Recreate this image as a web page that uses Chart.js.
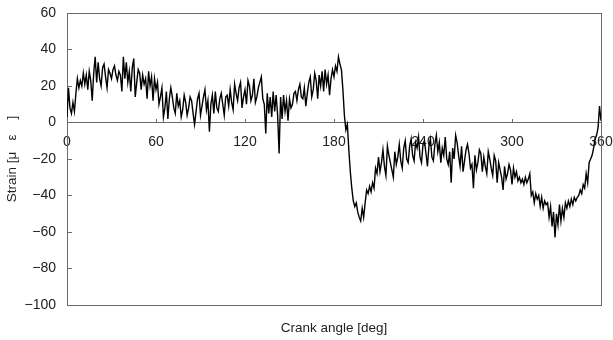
<!DOCTYPE html>
<html>
<head>
<meta charset="utf-8">
<script src="https://cdn.jsdelivr.net/npm/chart.js@4/dist/chart.umd.min.js"></script>
<style>
  html, body { margin: 0; padding: 0; background: #fff; }
  #wrap { width: 613px; height: 340px; }
</style>
</head>
<body>
<div id="wrap"><canvas id="c" width="613" height="340"></canvas></div>
<script>
// Crank angle sampling (deg per sample) and axis ranges
const ANGLE_STEP = 1;
const xTicks = [0, 60, 120, 180, 240, 300, 360];
const yTicks = [-100, -80, -60, -40, -20, 0, 20, 40, 60];

// Measured strain [μ ε] at every degree of crank angle, 0..360
const strain = [
  3, 19, 8, 5, 11, 6, 16, 24, 19, 23,
  20, 27, 21, 26, 18, 28, 23, 12, 27, 36,
  22, 33, 24, 20, 30, 32, 25, 19, 29, 27,
  24, 29, 31, 26, 23, 28, 26, 17, 36, 24,
  33, 22, 28, 17, 30, 35, 14, 22, 29, 27,
  18, 26, 21, 24, 13, 28, 20, 25, 12, 24,
  18, 22, 10, 14, 19, 3, 8, 17, 2, 13,
  19, 14, 8, 5, 16, 9, 12, 3, 7, 15,
  11, 4, 8, 14, 12, 5, -1, 6, 13, 16,
  4, 9, 14, 18, 7, 12, -5, 10, 15, 5,
  17, 8, 6, 13, 16, 10, 4, 14, 15, 9,
  18, 11, 7, 21, 16, 12, 19, 22, 8, 14,
  18, 10, 23, 20, 12, 15, 24, 11, 14, 19,
  22, 25, 13, 10, -6, 16, 5, 14, 3, 17,
  6, 15, 4, -17, 14, 2, 15, 6, 12, 1,
  13, 8, 10, 16, 17, 12, 18, 21, 14, 13,
  19, 9, 16, 22, 25, 14, 18, 27, 23, 13,
  26, 20, 28, 17, 29, 21, 26, 15, 24, 29,
  25, 31, 28, 36, 32, 29, 18, 4, -4, -1,
  -15, -27, -36, -43, -46, -44, -49, -52, -54, -47,
  -52, -44, -37, -39, -35, -38, -33, -36, -25, -28,
  -19, -27, -22, -15, -24, -29, -13, -18, -22, -26,
  -30, -16, -23, -19, -12, -21, -25, -14, -10, -20,
  -22, -13, -9, -18, -21, -11, -14, -8, -19, -22,
  -12, -10, -17, -24, -13, -9, -19, -21, -12, -7,
  -16, -11, -22, -14, -18, -8, -20, -23, -16, -33,
  -14, -20, -7, -11, -18, -24, -13, -27, -21, -15,
  -12, -17, -25, -23, -36, -18, -26, -22, -15, -17,
  -27, -19, -24, -28, -16, -20, -25, -29, -18, -21,
  -33, -22, -26, -30, -37, -24, -31, -28, -23, -26,
  -34, -25, -30, -27, -32, -30, -33, -31, -34, -30,
  -33, -31, -28, -40, -38, -44, -39, -42, -40, -46,
  -41, -47, -43, -45, -44, -52, -46, -57, -49, -63,
  -50, -56, -45, -54, -47, -52, -44, -47, -43, -46,
  -42, -45, -41, -43, -41, -40, -37, -39, -34, -36,
  -28, -33, -22, -20, -18, -14, -9, -7, -3, 9,
  1
];

const points = strain.map((v, i) => ({ x: i * ANGLE_STEP, y: v }));

const FRAME = '#6a6a6a';
const TEXT = '#222';
const tickFont = { family: '"Liberation Sans", Arial, sans-serif', size: 14 };
const titleFont = { family: '"Liberation Sans", Arial, sans-serif', size: 13.5 };
const minus = v => String(v).replace('-', '\u2212');

// Plot frame around the whole chart area
const framePlugin = {
  id: 'frame',
  beforeDatasetsDraw(chart) {
    const { ctx, chartArea: a } = chart;
    ctx.save();
    ctx.strokeStyle = FRAME;
    ctx.lineWidth = 1;
    ctx.strokeRect(Math.round(a.left) + 0.5, Math.round(a.top) + 0.5,
                   Math.round(a.right - a.left), Math.round(a.bottom - a.top));
    ctx.restore();
  }
};

// Keep edge labels from shrinking the plot area
const noEdgePadding = scale => {
  scale.paddingLeft = 0; scale.paddingRight = 0;
  scale.paddingTop = 0; scale.paddingBottom = 0;
};

new Chart(document.getElementById('c'), {
  type: 'line',
  data: {
    datasets: [{
      data: points,
      borderColor: '#000',
      borderWidth: 1.4,
      pointRadius: 0,
      tension: 0,
      fill: false,
      xAxisID: 'x',
      yAxisID: 'y'
    }]
  },
  options: {
    responsive: false,
    animation: false,
    devicePixelRatio: 1,
    layout: { padding: { top: 13, right: 12, left: 0, bottom: 0 } },
    plugins: { legend: { display: false }, tooltip: { enabled: false } },
    scales: {
      x: {
        type: 'linear',
        position: 'bottom',
        min: xTicks[0],
        max: xTicks[xTicks.length - 1],
        ticks: { display: false },
        grid: { display: false },
        border: { display: false },
        title: {
          display: true,
          text: 'Crank angle [deg]',
          color: TEXT,
          font: titleFont,
          padding: { top: 0, bottom: 4 }
        },
        afterFit(scale) { scale.height = 35; noEdgePadding(scale); }
      },
      // Angle axis drawn along the zero strain line
      xZero: {
        type: 'linear',
        position: { y: 0 },
        min: xTicks[0],
        max: xTicks[xTicks.length - 1],
        afterBuildTicks(scale) { scale.ticks = xTicks.map(v => ({ value: v })); },
        ticks: { color: TEXT, font: tickFont, padding: 15, maxRotation: 0, autoSkip: false,
                 callback: v => minus(v) },
        grid: { display: true, drawOnChartArea: false, drawTicks: true, tickLength: -4,
                color: FRAME, lineWidth: 1 },
        border: { display: true, color: FRAME, width: 1 },
        afterFit(scale) { scale.height = 0; noEdgePadding(scale); }
      },
      y: {
        type: 'linear',
        position: 'left',
        min: yTicks[0],
        max: yTicks[yTicks.length - 1],
        afterBuildTicks(scale) { scale.ticks = yTicks.map(v => ({ value: v })); },
        ticks: { color: TEXT, font: tickFont, padding: 16, callback: v => minus(v) },
        grid: { display: true, drawOnChartArea: false, drawTicks: true, tickLength: -5,
                color: FRAME, lineWidth: 1 },
        border: { display: false },
        title: {
          display: true,
          text: 'Strain [μ   ε    ]',
          color: TEXT,
          font: titleFont,
          padding: { top: 4, bottom: 0 }
        },
        afterFit(scale) { scale.width = 67; noEdgePadding(scale); }
      }
    }
  },
  plugins: [framePlugin]
});
</script>
</body>
</html>
